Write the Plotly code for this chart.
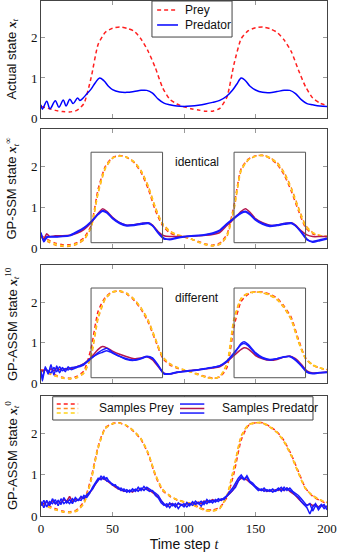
import plotly.graph_objects as go
from plotly.subplots import make_subplots

# time grids
T5 = list(range(0, 201, 5))
T2 = list(range(0, 201, 2))

# ---- panel 1: actual state ----
prey_true = [0.29, 0.24, 0.19, 0.16, 0.15, 0.19, 0.36, 1.0, 1.84, 2.14, 2.24, 2.27, 2.24, 2.17, 1.97,
             1.66, 1.25, 0.76, 0.47, 0.35, 0.28, 0.23, 0.2, 0.17, 0.17, 0.24, 0.52, 1.35, 1.98, 2.18,
             2.25, 2.27, 2.23, 2.14, 1.95, 1.66, 1.2, 0.78, 0.5, 0.37, 0.31]
pred_true_t = [0, 1, 4, 6.3, 10, 12.5, 15.6, 17.5, 20.2, 22.5, 25.6, 27.2, 29.5, 32, 35, 38, 41, 44, 47, 50,
               55, 60, 65, 70, 74, 78, 82, 86, 90, 95, 100, 105, 110, 115, 120, 125, 130, 134, 137, 140,
               143, 146, 150, 155, 160, 165, 170, 174, 178, 182, 186, 190, 195, 200]
pred_true = [0.33, 0.22, 0.42, 0.23, 0.43, 0.27, 0.45, 0.3, 0.47, 0.36, 0.5, 0.44, 0.5, 0.6, 0.72, 0.88, 1.0,
             0.93, 0.8, 0.71, 0.65, 0.64, 0.66, 0.69, 0.69, 0.62, 0.47, 0.37, 0.33, 0.3, 0.29, 0.3, 0.32,
             0.35, 0.39, 0.44, 0.55, 0.7, 0.85, 1.0, 0.93, 0.8, 0.7, 0.64, 0.63, 0.66, 0.69, 0.69, 0.61,
             0.46, 0.36, 0.33, 0.3, 0.29]

# ---- panel 2: GP-SSM ----
ssm_prey_red = [0.3, 0.2, 0.12, 0.08, 0.08, 0.13, 0.25, 0.55, 1.45, 2.0, 2.22, 2.27, 2.22, 2.1, 1.85, 1.45,
                0.92, 0.55, 0.37, 0.31, 0.27, 0.22, 0.16, 0.1, 0.07, 0.12, 0.33, 1.05, 1.95, 2.18, 2.26,
                2.27, 2.2, 2.06, 1.8, 1.4, 0.92, 0.5, 0.35, 0.3, 0.28]
ssm_prey_orange = [0.26, 0.15, 0.07, 0.04, 0.04, 0.09, 0.2, 0.5, 1.35, 1.95, 2.2, 2.26, 2.23, 2.12, 1.9,
                   1.52, 1.0, 0.6, 0.42, 0.33, 0.28, 0.22, 0.14, 0.08, 0.05, 0.09, 0.28, 0.95, 1.9, 2.16,
                   2.25, 2.28, 2.22, 2.1, 1.86, 1.48, 1.0, 0.56, 0.38, 0.31, 0.28]
ssm_prey_yellow = [0.28, 0.18, 0.1, 0.06, 0.06, 0.11, 0.22, 0.5, 1.38, 1.97, 2.21, 2.26, 2.22, 2.11, 1.88,
                   1.5, 0.97, 0.58, 0.4, 0.32, 0.28, 0.22, 0.15, 0.09, 0.06, 0.1, 0.3, 1.0, 1.92, 2.17,
                   2.25, 2.27, 2.21, 2.08, 1.83, 1.44, 0.96, 0.53, 0.37, 0.31, 0.28]
ssm_pred_t = [0, 2, 4, 6, 10, 15, 20, 25, 30, 35, 40, 43, 46, 50, 55, 60, 65, 70, 75, 78, 82, 86, 90, 95,
              100, 105, 110, 115, 120, 125, 130, 135, 140, 143, 146, 150, 155, 160, 165, 170, 175, 178,
              182, 186, 190, 195, 200]
ssm_pred_crimson = [0.3, 0.22, 0.35, 0.28, 0.3, 0.3, 0.31, 0.36, 0.45, 0.62, 0.85, 0.96, 0.9, 0.75, 0.62,
                    0.56, 0.57, 0.6, 0.62, 0.56, 0.4, 0.3, 0.28, 0.28, 0.28, 0.29, 0.3, 0.31, 0.33, 0.38,
                    0.55, 0.72, 0.9, 0.96, 0.88, 0.72, 0.62, 0.56, 0.56, 0.6, 0.62, 0.56, 0.42, 0.32,
                    0.28, 0.28, 0.28]
ssm_pred_blue1 = [0.38, 0.15, 0.25, 0.28, 0.28, 0.28, 0.3, 0.38, 0.48, 0.63, 0.82, 0.9, 0.86, 0.72, 0.6,
                  0.54, 0.55, 0.58, 0.6, 0.54, 0.38, 0.24, 0.2, 0.24, 0.27, 0.29, 0.3, 0.32, 0.35, 0.42,
                  0.58, 0.72, 0.85, 0.88, 0.82, 0.68, 0.58, 0.53, 0.55, 0.58, 0.6, 0.54, 0.4, 0.22, 0.14,
                  0.18, 0.22]
ssm_pred_blue2 = [0.35, 0.18, 0.28, 0.27, 0.27, 0.29, 0.31, 0.4, 0.5, 0.65, 0.84, 0.92, 0.88, 0.74, 0.62,
                  0.56, 0.57, 0.6, 0.62, 0.55, 0.36, 0.22, 0.22, 0.26, 0.28, 0.3, 0.31, 0.33, 0.37, 0.44,
                  0.6, 0.74, 0.87, 0.9, 0.84, 0.7, 0.6, 0.55, 0.57, 0.6, 0.62, 0.55, 0.38, 0.2, 0.16,
                  0.2, 0.24]

# ---- panel 3: GP-ASSM, 10 iterations ----
a10_prey_red = [0.33, 0.28, 0.2, 0.14, 0.12, 0.16, 0.3, 0.85, 1.78, 2.12, 2.26, 2.27, 2.2, 2.05, 1.82, 1.5,
                1.05, 0.62, 0.45, 0.37, 0.31, 0.28, 0.22, 0.16, 0.12, 0.15, 0.38, 1.4, 2.02, 2.2, 2.26,
                2.25, 2.2, 2.1, 1.9, 1.62, 1.08, 0.62, 0.45, 0.37, 0.33]
a10_prey_orange = [0.3, 0.24, 0.17, 0.12, 0.1, 0.13, 0.24, 0.65, 1.6, 2.08, 2.25, 2.28, 2.22, 2.08, 1.86,
                   1.55, 1.1, 0.66, 0.48, 0.39, 0.33, 0.27, 0.2, 0.14, 0.11, 0.16, 0.48, 1.6, 2.1, 2.23,
                   2.25, 2.23, 2.17, 2.06, 1.86, 1.56, 1.02, 0.6, 0.44, 0.37, 0.33]
a10_prey_yellow = [0.31, 0.26, 0.18, 0.13, 0.11, 0.14, 0.26, 0.7, 1.65, 2.1, 2.25, 2.27, 2.21, 2.07, 1.85,
                   1.53, 1.08, 0.65, 0.47, 0.38, 0.32, 0.27, 0.21, 0.15, 0.11, 0.16, 0.45, 1.55, 2.08,
                   2.22, 2.25, 2.24, 2.18, 2.08, 1.88, 1.58, 1.04, 0.61, 0.45, 0.37, 0.33]
a10_pred_t = [0, 1, 3, 5, 7, 9, 11, 13, 15, 17, 19, 21, 25, 30, 35, 40, 43, 46, 50, 55, 60, 65, 70, 74, 78,
              82, 86, 90, 95, 100, 105, 110, 115, 120, 125, 130, 135, 140, 142, 145, 150, 155, 160, 165,
              170, 174, 178, 182, 186, 190, 195, 200]
a10_pred_crimson = [0.3, 0.3, 0.33, 0.28, 0.35, 0.3, 0.36, 0.33, 0.36, 0.34, 0.37, 0.36, 0.4, 0.48, 0.63,
                    0.83, 0.9, 0.87, 0.79, 0.71, 0.65, 0.6, 0.62, 0.65, 0.57, 0.4, 0.24, 0.22, 0.26, 0.29,
                    0.31, 0.33, 0.35, 0.37, 0.4, 0.52, 0.68, 0.83, 0.87, 0.84, 0.68, 0.6, 0.56, 0.58,
                    0.64, 0.67, 0.6, 0.46, 0.3, 0.25, 0.25, 0.27]
a10_pred_blue1 = [0.3, 0.05, 0.4, 0.22, 0.45, 0.2, 0.42, 0.25, 0.38, 0.28, 0.4, 0.33, 0.38, 0.45, 0.6, 0.75,
                  0.82, 0.86, 0.76, 0.66, 0.58, 0.56, 0.6, 0.65, 0.6, 0.42, 0.22, 0.22, 0.26, 0.28, 0.3,
                  0.32, 0.35, 0.38, 0.42, 0.53, 0.72, 0.98, 1.02, 0.95, 0.75, 0.63, 0.58, 0.6, 0.64, 0.65,
                  0.56, 0.42, 0.26, 0.23, 0.25, 0.26]
a10_pred_blue2 = [0.25, 0.15, 0.35, 0.3, 0.25, 0.38, 0.28, 0.4, 0.3, 0.36, 0.32, 0.38, 0.4, 0.47, 0.62,
                  0.72, 0.76, 0.8, 0.74, 0.66, 0.6, 0.57, 0.61, 0.66, 0.62, 0.44, 0.24, 0.23, 0.27, 0.29,
                  0.31, 0.33, 0.36, 0.39, 0.43, 0.55, 0.75, 0.95, 0.98, 0.92, 0.72, 0.61, 0.57, 0.6,
                  0.65, 0.66, 0.58, 0.44, 0.28, 0.24, 0.26, 0.27]

# ---- panel 4: GP-ASSM, 0 iterations ----
a0_prey_red = [0.3, 0.25, 0.18, 0.12, 0.1, 0.15, 0.35, 0.92, 1.7, 2.15, 2.25, 2.26, 2.19, 2.05, 1.86, 1.5,
               0.98, 0.62, 0.48, 0.39, 0.34, 0.3, 0.22, 0.15, 0.15, 0.21, 0.45, 1.05, 1.85, 2.2, 2.27,
               2.27, 2.18, 2.05, 1.83, 1.5, 1.08, 0.68, 0.48, 0.38, 0.3]
a0_prey_orange = [0.28, 0.22, 0.15, 0.1, 0.08, 0.12, 0.3, 0.85, 1.65, 2.13, 2.24, 2.27, 2.2, 2.07, 1.88,
                  1.53, 1.02, 0.65, 0.5, 0.4, 0.35, 0.29, 0.2, 0.13, 0.12, 0.18, 0.5, 1.2, 1.95, 2.22,
                  2.27, 2.26, 2.16, 2.03, 1.8, 1.46, 1.04, 0.66, 0.5, 0.4, 0.33]
a0_prey_yellow = [0.29, 0.23, 0.16, 0.11, 0.09, 0.13, 0.32, 0.88, 1.68, 2.14, 2.25, 2.26, 2.2, 2.06, 1.87,
                  1.52, 1.0, 0.64, 0.49, 0.4, 0.34, 0.3, 0.21, 0.14, 0.13, 0.19, 0.48, 1.15, 1.92, 2.21,
                  2.27, 2.27, 2.17, 2.04, 1.82, 1.48, 1.06, 0.67, 0.49, 0.39, 0.32]
a0_pred_blue1 = [0.35, 0.2, 0.38, 0.25, 0.42, 0.3, 0.38, 0.28, 0.45, 0.32,
                 0.4, 0.3, 0.45, 0.38, 0.48, 0.42, 0.52, 0.58, 0.65, 0.78,
                 0.86, 0.97, 0.9, 0.93, 0.82, 0.78, 0.72, 0.7, 0.62, 0.66,
                 0.58, 0.63, 0.6, 0.65, 0.6, 0.68, 0.62, 0.7, 0.66, 0.6,
                 0.56, 0.5, 0.38, 0.3, 0.22, 0.32, 0.25, 0.3, 0.18, 0.28,
                 0.22, 0.33, 0.25, 0.35, 0.28, 0.32, 0.24, 0.35, 0.3, 0.38,
                 0.32, 0.4, 0.35, 0.42, 0.4, 0.48, 0.55, 0.62, 0.7, 0.85,
                 0.95, 0.88, 0.98, 0.85, 0.8, 0.72, 0.66, 0.62, 0.68, 0.6,
                 0.64, 0.58, 0.62, 0.68, 0.6, 0.7, 0.62, 0.68, 0.6, 0.55,
                 0.5, 0.42, 0.32, 0.25, 0.3, 0.12, 0.25, 0.2, 0.28, 0.18,
                 0.25]
a0_pred_blue2 = [0.25, 0.38, 0.22, 0.35, 0.3, 0.4, 0.25, 0.42, 0.3, 0.36,
                 0.3, 0.42, 0.35, 0.4, 0.38, 0.5, 0.45, 0.55, 0.7, 0.82,
                 0.92, 0.88, 0.96, 0.85, 0.84, 0.75, 0.76, 0.66, 0.68, 0.6,
                 0.64, 0.58, 0.66, 0.6, 0.7, 0.62, 0.72, 0.64, 0.6, 0.62,
                 0.5, 0.44, 0.32, 0.26, 0.3, 0.2, 0.3, 0.22, 0.32, 0.26,
                 0.3, 0.22, 0.3, 0.26, 0.36, 0.3, 0.36, 0.28, 0.4, 0.33,
                 0.38, 0.34, 0.42, 0.38, 0.45, 0.5, 0.6, 0.68, 0.8, 0.92,
                 1.0, 0.9, 0.94, 0.82, 0.76, 0.7, 0.62, 0.66, 0.6, 0.64,
                 0.6, 0.66, 0.6, 0.64, 0.7, 0.62, 0.68, 0.62, 0.58, 0.5,
                 0.45, 0.35, 0.28, 0.2, 0.05, 0.22, 0.3, 0.15, 0.24, 0.28,
                 0.15]
a0_pred_crimson = [0.3, 0.3, 0.35, 0.28, 0.38, 0.3, 0.35, 0.32, 0.4, 0.36,
                   0.48, 0.35, 0.4, 0.38, 0.45, 0.44, 0.5, 0.56, 0.66, 0.78,
                   0.88, 0.92, 0.9, 0.86, 0.8, 0.74, 0.7, 0.66, 0.62, 0.6,
                   0.6, 0.62, 0.58, 0.64, 0.62, 0.66, 0.64, 0.68, 0.62, 0.58,
                   0.52, 0.46, 0.36, 0.28, 0.26, 0.28, 0.3, 0.24, 0.3, 0.28,
                   0.26, 0.3, 0.28, 0.32, 0.3, 0.34, 0.3, 0.36, 0.34, 0.36,
                   0.4, 0.36, 0.4, 0.38, 0.42, 0.48, 0.55, 0.62, 0.74, 0.86,
                   0.92, 0.9, 0.88, 0.82, 0.76, 0.7, 0.66, 0.62, 0.64, 0.6,
                   0.62, 0.6, 0.64, 0.62, 0.66, 0.62, 0.68, 0.6, 0.56, 0.5,
                   0.42, 0.34, 0.28, 0.26, 0.3, 0.25, 0.28, 0.22, 0.26, 0.24,
                   0.22]

# highlighted regions in panels 2 and 3
box_spans = [(35, 85), (135, 185)]
box_y = (0.13, 2.35)

RED = "#ff1f1f"
ORANGE = "#ff8c1a"
YELLOW = "#ffd21a"
BLUE = "#1a1aff"
CRIMSON = "#b5174f"
DASH = "4px,3px"
SANS = "Liberation Sans, Arial, sans-serif"
SERIF = "Liberation Serif, DejaVu Serif, serif"

fig = make_subplots(rows=4, cols=1, shared_xaxes=True)


def add(row, x, y, color, dash="solid", shape="spline", smoothing=0.6):
    fig.add_trace(go.Scatter(x=x, y=y, mode="lines", showlegend=False, hoverinfo="skip",
                             line=dict(color=color, width=1.5, dash=dash, shape=shape,
                                       smoothing=smoothing if shape == "spline" else None)),
                  row=row, col=1)


# panel 1
add(1, T5, prey_true, RED, DASH)
add(1, pred_true_t, pred_true, "#0000ff", smoothing=1.0)

# panel 2
for yy, c in [(ssm_prey_red, RED), (ssm_prey_orange, ORANGE), (ssm_prey_yellow, YELLOW)]:
    add(2, T5, yy, c, DASH)
for yy, c in [(ssm_pred_crimson, CRIMSON), (ssm_pred_blue2, BLUE), (ssm_pred_blue1, BLUE)]:
    add(2, ssm_pred_t, yy, c)

# panel 3
for yy, c in [(a10_prey_red, RED), (a10_prey_orange, ORANGE), (a10_prey_yellow, YELLOW)]:
    add(3, T5, yy, c, DASH)
for yy, c in [(a10_pred_crimson, CRIMSON), (a10_pred_blue2, BLUE), (a10_pred_blue1, BLUE)]:
    add(3, a10_pred_t, yy, c)

# panel 4
for yy, c in [(a0_prey_orange, ORANGE), (a0_prey_red, RED), (a0_prey_yellow, YELLOW)]:
    add(4, T5, yy, c, DASH)
for yy, c in [(a0_pred_crimson, CRIMSON), (a0_pred_blue2, BLUE), (a0_pred_blue1, BLUE)]:
    add(4, T2, yy, c, shape="linear")

domains = [(0.7728, 1.0), (0.5204, 0.7515), (0.2583, 0.4874), (0.0, 0.2330)]
axis_common = dict(showline=True, linecolor="#444", linewidth=1, mirror="allticks",
                   ticks="inside", ticklen=4, tickcolor="#999", showgrid=False, zeroline=False,
                   tickfont=dict(family=SERIF, size=13, color="#111"))
for i, dom in enumerate(domains, start=1):
    fig.update_yaxes(row=i, col=1, domain=list(dom), range=[0, 2.92], tickvals=[0, 1, 2],
                     **axis_common)
    fig.update_xaxes(row=i, col=1, range=[0, 200], tickvals=[0, 50, 100, 150, 200],
                     showticklabels=(i == 4), **axis_common)

fig.update_xaxes(row=4, col=1, title=dict(
    text='Time step <span style="font-family:Liberation Serif"><i>t</i></span>',
    font=dict(family=SANS, size=14, color="#111"), standoff=4))

MATH = '<span style="font-family:Liberation Serif"><b><i>x</i></b><sub><i>t</i></sub>%s</span>'
ytitles = ["Actual state " + MATH % "",
           "GP-SSM state " + MATH % "<sup>∞</sup>",
           "GP-ASSM state " + MATH % "<sup>10</sup>",
           "GP-ASSM state " + MATH % "<sup>0</sup>"]
annotations = []
for i, txt in enumerate(ytitles, start=1):
    yref = "y domain" if i == 1 else "y%d domain" % i
    annotations.append(dict(text=txt, xref="paper", yref=yref, x=-0.101, y=0.5, textangle=-90,
                            showarrow=False, xanchor="center", yanchor="middle",
                            font=dict(family=SANS, size=13, color="#111")))

shapes = []
for row, label in [(2, "identical"), (3, "different")]:
    for x0, x1 in box_spans:
        shapes.append(dict(type="rect", xref="x%d" % row, yref="y%d" % row, x0=x0, x1=x1,
                           y0=box_y[0], y1=box_y[1], line=dict(color="#555", width=1)))
    annotations.append(dict(text=label, xref="x%d" % row, yref="y%d" % row, x=109, y=2.1,
                            showarrow=False, font=dict(family=SANS, size=12, color="#111")))

# legend of panel 1
shapes.append(dict(type="rect", xref="x domain", yref="y domain", x0=0.388, x1=0.668, y0=0.692, y1=1.0,
                   line=dict(color="#444", width=1), fillcolor="white", layer="above"))
for yy, c, d, lab in [(0.923, RED, DASH, "Prey"), (0.795, "#0000ff", "solid", "Predator")]:
    shapes.append(dict(type="line", xref="x domain", yref="y domain", x0=0.406, x1=0.479, y0=yy, y1=yy,
                       line=dict(color=c, width=1.5, dash=d), layer="above"))
    annotations.append(dict(text=lab, xref="x domain", yref="y domain", x=0.497, y=yy, xanchor="left",
                            yanchor="middle", showarrow=False,
                            font=dict(family=SANS, size=12, color="#111")))

# legend of panel 4
shapes.append(dict(type="rect", xref="x4 domain", yref="y4 domain", x0=0.041, x1=0.951, y0=0.8, y1=0.994,
                   line=dict(color="#444", width=1), fillcolor="white", layer="above"))
for yy, c in [(0.933, RED), (0.896, ORANGE), (0.858, YELLOW)]:
    shapes.append(dict(type="line", xref="x4 domain", yref="y4 domain", x0=0.055, x1=0.130, y0=yy, y1=yy,
                       line=dict(color=c, width=1.5, dash=DASH), layer="above"))
for yy, c in [(0.933, BLUE), (0.896, CRIMSON), (0.858, BLUE)]:
    shapes.append(dict(type="line", xref="x4 domain", yref="y4 domain", x0=0.486, x1=0.571, y0=yy, y1=yy,
                       line=dict(color=c, width=1.5), layer="above"))
for xx, lab in [(0.195, "Samples Prey"), (0.626, "Samples Predator")]:
    annotations.append(dict(text=lab, xref="x4 domain", yref="y4 domain", x=xx, y=0.896, xanchor="left",
                            yanchor="middle", showarrow=False,
                            font=dict(family=SANS, size=12, color="#111")))

fig.update_layout(width=342, height=557, margin=dict(l=41, r=15, t=1, b=41),
                  paper_bgcolor="white", plot_bgcolor="white", showlegend=False,
                  shapes=shapes, annotations=annotations)

# the page's default 8px body margin would shift the figure inside the 342x557 window
fig.write_html("out.html", config={"displayModeBar": False},
               post_script="document.body.style.margin = '0';")
